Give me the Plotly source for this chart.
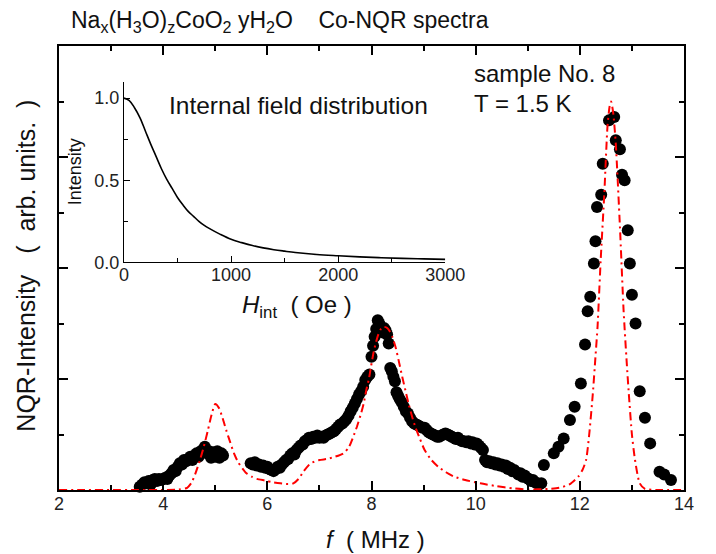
import plotly.graph_objects as go

# ---------------- data ----------------
# measured Co-NQR spectrum (black dots): frequency (MHz), intensity (arb. units)
f_meas = [3.55, 3.60, 3.64, 3.68, 3.72, 3.76, 3.80, 3.84, 3.88, 3.92, 3.96, 4.00, 4.04, 4.08,
          4.12, 4.16, 4.20, 4.24, 4.28, 4.32, 4.36, 4.40, 4.44, 4.48, 4.52, 4.56, 4.60, 4.64,
          4.68, 4.72, 4.76, 4.80, 4.84, 4.88, 4.92, 4.96, 5.00, 5.04, 5.08, 5.12, 5.15,
          5.68, 5.72, 5.76, 5.80, 5.84, 5.88, 5.92, 5.96, 6.00, 6.04, 6.08, 6.12, 6.16, 6.20,
          6.24, 6.28, 6.32, 6.36, 6.40, 6.44, 6.48, 6.52, 6.56, 6.60, 6.64, 6.68, 6.72, 6.76,
          6.80, 6.84, 6.88, 6.92, 6.96, 7.00, 7.04, 7.08, 7.12, 7.16, 7.20, 7.24, 7.28, 7.32,
          7.36, 7.40, 7.44, 7.48, 7.52, 7.56, 7.60, 7.64, 7.68, 7.72, 7.76, 7.80, 7.84, 7.88,
          7.92, 7.96, 8.00, 8.03, 8.06, 8.09, 8.12, 8.15, 8.18, 8.21, 8.24, 8.27, 8.30, 8.33,
          8.36, 8.39, 8.42, 8.45, 8.48, 8.51, 8.54, 8.58, 8.62, 8.66, 8.70, 8.74, 8.78, 8.82,
          8.86, 8.90, 8.94, 8.98, 9.02, 9.06, 9.10, 9.14, 9.18, 9.22, 9.26, 9.30, 9.34, 9.38,
          9.42, 9.46, 9.50, 9.54, 9.58, 9.62, 9.66, 9.70, 9.74, 9.78, 9.82, 9.86, 9.90, 9.94,
          9.98, 10.02, 10.06, 10.10, 10.14, 10.18, 10.22, 10.26, 10.30, 10.34, 10.38, 10.42,
          10.46, 10.50, 10.54, 10.58, 10.62, 10.66, 10.70, 10.74, 10.78, 10.82, 10.86, 10.90,
          10.94, 10.98, 11.02, 11.06, 11.10, 11.14, 11.18, 11.22, 11.26,
          11.31, 11.50, 11.59, 11.69, 11.81, 11.90, 12.02, 12.10, 12.15, 12.20, 12.27, 12.30,
          12.33, 12.41, 12.44, 12.56, 12.66, 12.69, 12.77, 12.81, 12.86, 12.92, 12.96, 13.00,
          13.07, 13.15, 13.25, 13.35, 13.53, 13.62, 13.75]
i_meas = [0.03, 0.05, 0.07, 0.06, 0.08, 0.05, 0.09, 0.10, 0.08, 0.10, 0.09, 0.10, 0.11, 0.10,
          0.13, 0.15, 0.18, 0.17, 0.21, 0.24, 0.23, 0.27, 0.26, 0.28, 0.30, 0.27, 0.31, 0.33,
          0.30, 0.35, 0.36, 0.39, 0.33, 0.35, 0.29, 0.34, 0.30, 0.35, 0.29, 0.33, 0.31,
          0.24, 0.23, 0.25, 0.22, 0.23, 0.21, 0.22, 0.20, 0.21, 0.19, 0.18, 0.17, 0.19, 0.21,
          0.20, 0.23, 0.25, 0.27, 0.28, 0.31, 0.33, 0.32, 0.36, 0.38, 0.40, 0.41, 0.44, 0.45,
          0.47, 0.46, 0.48, 0.47, 0.49, 0.47, 0.48, 0.47, 0.49, 0.50, 0.51, 0.52, 0.53, 0.55,
          0.57, 0.59, 0.60, 0.62, 0.64, 0.67, 0.71, 0.74, 0.78, 0.82, 0.86, 0.89, 0.93, 0.99,
          1.02, 1.04, 1.20, 1.30, 1.38, 1.45, 1.53, 1.50, 1.46, 1.42, 1.46, 1.44, 1.40, 1.32,
          1.10, 1.07, 1.02, 0.98, 0.88, 0.85, 0.82, 0.79, 0.75, 0.71, 0.69, 0.65, 0.62, 0.60,
          0.59, 0.58, 0.57, 0.56, 0.56, 0.54, 0.52, 0.51, 0.50, 0.49, 0.48, 0.48, 0.49, 0.50,
          0.51, 0.50, 0.49, 0.48, 0.47, 0.46, 0.47, 0.45, 0.44, 0.44, 0.43, 0.44, 0.42, 0.43,
          0.41, 0.42, 0.40, 0.38, 0.36, 0.27, 0.25, 0.26, 0.24, 0.25, 0.23, 0.24,
          0.22, 0.23, 0.21, 0.22, 0.19, 0.20, 0.17, 0.18, 0.16, 0.14, 0.15, 0.12,
          0.13, 0.11, 0.10, 0.08, 0.09, 0.07, 0.06, 0.05, 0.06,
          0.225, 0.33, 0.39, 0.465, 0.63, 0.75, 0.96, 1.31, 1.61, 1.74, 2.04, 2.24,
          2.55, 2.66, 2.94, 3.33, 3.36, 3.15, 3.07, 2.84, 2.79, 2.34, 2.04, 1.76,
          1.50, 0.89, 0.65, 0.42, 0.165, 0.14, 0.09]

# simulated spectrum (red dash-dot line)
f_sim = [2.0, 2.5, 3.0, 3.5, 4.0, 4.3, 4.46, 4.55, 4.62, 4.70, 4.78, 4.86, 4.93, 5.00, 5.07,
         5.14, 5.21, 5.28, 5.36, 5.44, 5.52, 5.60, 5.70, 5.80, 5.96, 6.10, 6.25, 6.40, 6.50,
         6.60, 6.70, 6.83, 7.00, 7.15, 7.30, 7.46, 7.56, 7.65, 7.72, 7.80, 7.85, 7.90, 7.95,
         7.99, 8.04, 8.08, 8.13, 8.18, 8.24, 8.30, 8.35, 8.40, 8.46, 8.52, 8.59, 8.65, 8.71,
         8.78, 8.84, 8.93, 9.02, 9.15, 9.28, 9.43, 9.59, 9.80, 10.09, 10.40, 10.71, 11.0,
         11.4, 11.6, 11.8, 11.97, 12.05, 12.12, 12.18, 12.25, 12.30, 12.34, 12.40, 12.47,
         12.53, 12.57, 12.60, 12.64, 12.69, 12.77, 12.84, 12.90, 12.94, 13.00, 13.06, 13.15,
         13.25, 13.5, 14.0]
i_sim = [0, 0, 0, 0, 0, 0.005, 0.02, 0.07, 0.15, 0.26, 0.39, 0.54, 0.68, 0.775, 0.74,
         0.65, 0.54, 0.44, 0.33, 0.25, 0.195, 0.15, 0.12, 0.10, 0.085, 0.07, 0.06, 0.054, 0.06,
         0.10, 0.17, 0.24, 0.27, 0.28, 0.30, 0.33, 0.38, 0.48, 0.57, 0.69, 0.78, 0.90, 1.00,
         1.11, 1.24, 1.32, 1.40, 1.45, 1.47, 1.46, 1.43, 1.38, 1.29, 1.17, 1.02, 0.90, 0.78,
         0.66, 0.57, 0.46, 0.36, 0.27, 0.21, 0.16, 0.12, 0.09, 0.06, 0.035, 0.015, 0.005,
         0.01, 0.02, 0.05, 0.12, 0.18, 0.27, 0.50, 0.87, 1.20, 1.47, 2.07, 2.67,
         3.27, 3.45, 3.50, 3.40, 3.12, 2.37, 1.62, 1.15, 0.87, 0.50, 0.27, 0.06,
         0.01, 0, 0]

# inset: internal field distribution
h_int = [0, 50, 100, 150, 200, 250, 300, 350, 400, 450, 500, 550, 600, 650, 700, 750, 800,
         900, 1000, 1100, 1200, 1300, 1400, 1500, 1600, 1800, 2000, 2200, 2400, 2600, 2800, 3000]
p_int = [1.0, 0.985, 0.94, 0.88, 0.80, 0.72, 0.645, 0.57, 0.505, 0.45, 0.395, 0.35, 0.31,
         0.28, 0.25, 0.225, 0.205, 0.17, 0.14, 0.12, 0.102, 0.088, 0.077, 0.068, 0.06, 0.048,
         0.04, 0.033, 0.028, 0.024, 0.021, 0.018]

x_ticks = [2, 4, 6, 8, 10, 12, 14]
inset_x_ticks = [0, 1000, 2000, 3000]
inset_y_ticks = [0.0, 0.5, 1.0]

# ---------------- figure ----------------
FONT = "Liberation Sans, Arial, sans-serif"
TXT = "#111111"

fig = go.Figure()
fig.add_trace(go.Scatter(x=f_meas, y=i_meas, mode="markers",
                         marker=dict(color="black", size=12, line=dict(width=0)),
                         showlegend=False, xaxis="x", yaxis="y", cliponaxis=False))
fig.add_trace(go.Scatter(x=f_sim, y=i_sim, mode="lines",
                         line=dict(color="#ff0000", width=2, dash="8px,4px,2px,4px", shape="spline",
                                   smoothing=0.6),
                         showlegend=False, xaxis="x", yaxis="y"))
fig.add_trace(go.Scatter(x=h_int, y=p_int, mode="lines",
                         line=dict(color="black", width=1.6, shape="spline", smoothing=1.0),
                         showlegend=False, xaxis="x2", yaxis="y2"))

fig.update_layout(
    width=716, height=554,
    margin=dict(l=59, r=18, t=46, b=64),
    paper_bgcolor="white", plot_bgcolor="white",
    font=dict(family=FONT, color=TXT, size=18),
    xaxis=dict(range=[2, 14], tickvals=x_ticks, ticktext=[str(v) for v in x_ticks],
               ticks="inside", ticklen=9, tickwidth=1.5, tickcolor="black",
               minor=dict(dtick=1, tick0=3, ticks="inside", ticklen=5, tickwidth=1.5, tickcolor="black"),
               showline=True, linewidth=2, linecolor="black", mirror="ticks",
               showgrid=False, zeroline=False, ticklabelstandoff=-4,
               tickfont=dict(size=18, color="#222222")),
    yaxis=dict(range=[0, 4], dtick=1, showticklabels=False,
               ticks="inside", ticklen=9, tickwidth=1.5, tickcolor="black",
               minor=dict(dtick=0.5, ticks="inside", ticklen=5, tickwidth=1.5, tickcolor="black"),
               showline=True, linewidth=2, linecolor="black", mirror="ticks",
               showgrid=False, zeroline=False),
    xaxis2=dict(domain=[0.1039, 0.618], anchor="y2", range=[0, 3000],
                tickvals=inset_x_ticks, ticktext=[str(v) for v in inset_x_ticks],
                ticks="inside", ticklen=6, tickwidth=1, tickcolor="black",
                minor=dict(dtick=500, ticks="inside", ticklen=4, tickwidth=1, tickcolor="black"),
                showline=True, linewidth=1.3, linecolor="black", ticklabelstandoff=-4,
                showgrid=False, zeroline=False, tickfont=dict(size=18, color="#222222")),
    yaxis2=dict(domain=[0.5128, 0.9196], anchor="x2", range=[0, 1.1],
                tickvals=inset_y_ticks, ticktext=["0.0", "0.5", "1.0"],
                ticks="inside", ticklen=6, tickwidth=1, tickcolor="black",
                minor=dict(dtick=0.25, ticks="inside", ticklen=4, tickwidth=1, tickcolor="black"),
                showline=True, linewidth=1.3, linecolor="black",
                showgrid=False, zeroline=False, tickfont=dict(size=18, color="#222222")),
)

ann = [
    dict(text="Na<sub>x</sub>(H<sub>3</sub>O)<sub>z</sub>CoO<sub>2</sub> yH<sub>2</sub>O    Co-NQR spectra",
         x=0.0167, y=1.056, xanchor="left", yanchor="middle", font=dict(size=23)),
    dict(text="sample No. 8", x=0.6600, y=0.937, xanchor="left", yanchor="middle", font=dict(size=24)),
    dict(text="T = 1.5 K", x=0.6600, y=0.870, xanchor="left", yanchor="middle", font=dict(size=24)),
    dict(text="Internal field distribution", x=0.1733, y=0.867, xanchor="left", yanchor="middle",
         font=dict(size=24.5)),
    dict(text="<i>H</i><sub>int</sub>  ( Oe )", x=0.3800, y=0.414, xanchor="center", yanchor="middle",
         font=dict(size=24)),
    dict(text="Intensity", x=0.0260, y=0.716, xanchor="center", yanchor="middle", textangle=-90,
         font=dict(size=18)),
    dict(text="<i>f</i>  ( MHz )", x=0.507, y=-0.112, xanchor="center", yanchor="middle",
         font=dict(size=24)),
    dict(text="NQR-Intensity   (  arb. units.  )", x=-0.0530, y=0.505, xanchor="center", yanchor="middle",
         textangle=-90, font=dict(size=25)),
]
for a in ann:
    a.update(xref="paper", yref="paper", showarrow=False)
fig.update_layout(annotations=ann)

fig.write_html("out.html")
